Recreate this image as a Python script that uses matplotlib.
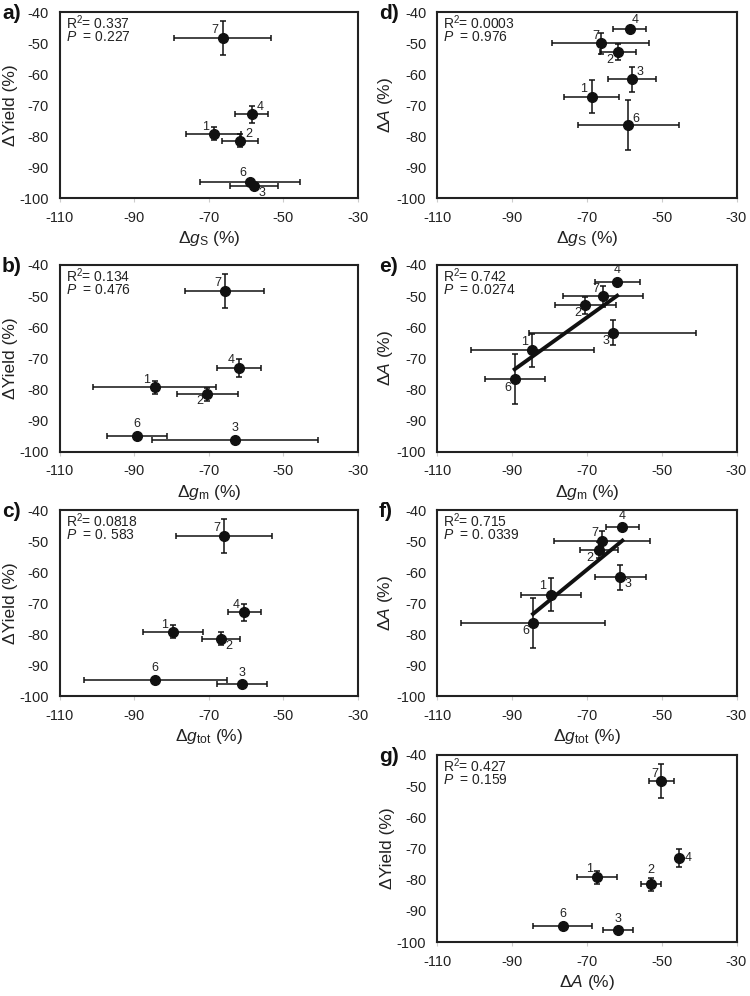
import matplotlib
matplotlib.use("Agg")
import matplotlib.pyplot as plt
import numpy as np

plt.rcParams['font.family'] = ['Liberation Sans', 'DejaVu Sans']
plt.rcParams['mathtext.fontset'] = 'custom'
plt.rcParams['mathtext.rm'] = 'Liberation Sans'
plt.rcParams['mathtext.it'] = 'Liberation Sans:italic'
plt.rcParams['axes.unicode_minus'] = False

# ---------------------------------------------------------------------------
# data (treatment means and errors, % change)
treatments = ['1', '2', '3', '4', '6', '7']

yield_mean = [-79.3, -81.5, -96.2, -73.0, -94.9, -48.4]
yield_err = [2.1, 2.0, 0.5, 2.8, 0.5, 5.5]

A_mean = [-67.3, -52.9, -61.7, -45.5, -76.5, -50.1]
A_err = [5.3, 2.7, 4.1, 0.8, 8.0, 3.3]

gs_mean = [-68.7, -61.6, -57.9, -58.5, -58.9, -66.3]
gs_err = [7.4, 4.8, 6.5, 4.4, 13.4, 13.0]

gm_mean = [-84.6, -70.4, -63.1, -61.9, -89.3, -65.7]
gm_err = [16.4, 8.1, 22.3, 6.0, 8.0, 10.6]

gtot_mean = [-79.7, -66.8, -61.1, -60.5, -84.4, -65.9]
gtot_err = [8.0, 5.1, 6.8, 4.4, 19.2, 12.9]

r2_text = ['0.337', '0.134', '0.0818', '0.0003', '0.742', '0.715', '0.427']
p_text = ['0.227', '0.476', '0. 583', '0.976', '0.0274', '0. 0339', '0.159']

xticks = [-110, -90, -70, -50, -30]
yticks = [-100, -90, -80, -70, -60, -50, -40]

# ---------------------------------------------------------------------------
lab_yield = 'ΔYield (%)'
lab_A = 'Δ$A$ (%)'
lab_gs = 'Δ$g_{\\mathrm{S}}$ (%)'
lab_gm = 'Δ$g_{\\mathrm{m}}$ (%)'
lab_gtot = 'Δ$g_{\\mathrm{tot}}$ (%)'

# letter, axes rect, x data, y data, x label, y label, fit line
panels = [
    ('a)', [0.080, 0.8012, 0.397, 0.1867], (gs_mean, gs_err), (yield_mean, yield_err), lab_gs, lab_yield, False),
    ('b)', [0.080, 0.5462, 0.397, 0.1878], (gm_mean, gm_err), (yield_mean, yield_err), lab_gm, lab_yield, False),
    ('c)', [0.080, 0.3012, 0.397, 0.1867], (gtot_mean, gtot_err), (yield_mean, yield_err), lab_gtot, lab_yield, False),
    ('d)', [0.583, 0.8012, 0.399, 0.1867], (gs_mean, gs_err), (A_mean, A_err), lab_gs, lab_A, False),
    ('e)', [0.583, 0.5462, 0.399, 0.1878], (gm_mean, gm_err), (A_mean, A_err), lab_gm, lab_A, True),
    ('f)', [0.583, 0.3012, 0.399, 0.1867], (gtot_mean, gtot_err), (A_mean, A_err), lab_gtot, lab_A, True),
    ('g)', [0.583, 0.0542, 0.399, 0.1878], (A_mean, A_err), (yield_mean, yield_err), lab_A, lab_yield, False),
]

# number label offsets in pixels (order: 1, 2, 3, 4, 6, 7)
offsets = [
    [(-8, 7), (9, 7), (8, -7), (9, 7), (-7, 9), (-8, 8)],
    [(-8, 7), (-8, -7), (0, 12), (-8, 8), (0, 12), (-7, 8)],
    [(-8, 7), (8, -7), (0, 11), (-8, 7), (0, 12), (-7, 8)],
    [(-8, 8), (-8, -8), (8, 7), (5, 9), (7, 6), (-5, 7)],
    [(-8, 8), (-8, -8), (-7, -8), (0, 12), (-7, -9), (-7, 7)],
    [(-8, 9), (-9, -8), (8, -7), (0, 11), (-7, -8), (-7, 8)],
    [(-7, 8), (0, 14), (0, 11), (10, 0), (0, 12), (-6, 7)],
]

fig = plt.figure(figsize=(7.5, 9.96), dpi=100)

for k, (letter, rect, xd, yd, xlab, ylab, fit) in enumerate(panels):
    ax = fig.add_axes(rect)
    x, xe = np.array(xd[0]), np.array(xd[1])
    y, ye = np.array(yd[0]), np.array(yd[1])

    if fit:
        slope, icpt = np.polyfit(x, y, 1)
        xx = np.array([x.min(), x.max()])
        ax.plot(xx, slope * xx + icpt, color='#111111', lw=2.8, zorder=2)

    ax.errorbar(x, y, xerr=xe, yerr=ye, fmt='o', color='#111111', ms=7,
                elinewidth=1.1, capsize=2.5, capthick=1.1, zorder=3)

    for i, t in enumerate(treatments):
        dx, dy = offsets[k][i]
        ax.annotate(t, (x[i], y[i]), xytext=(dx, dy), textcoords='offset pixels',
                    ha='center', va='center', fontsize=9, color='#222222')

    ax.set_xlim(-110, -30)
    ax.set_ylim(-100, -40)
    ax.set_xticks(xticks)
    ax.set_yticks(yticks)
    ax.tick_params(axis='x', length=3, color='#cccccc', pad=6, labelsize=10.5, labelcolor='#222222')
    ax.tick_params(axis='y', length=0, pad=8, labelsize=10.5, labelcolor='#222222')
    for s in ax.spines.values():
        s.set_linewidth(1.5)
        s.set_color('#222222')

    ax.set_xlabel(xlab, fontsize=12.5, labelpad=3, color='#222222')
    ax.set_ylabel(ylab, fontsize=12.5, labelpad=1, color='#222222')

    ax.text(0.02, 0.945, 'R$^2$= ' + r2_text[k], transform=ax.transAxes,
            ha='left', va='center', fontsize=10, color='#222222')
    ax.text(0.02, 0.865, '$P$  = ' + p_text[k], transform=ax.transAxes,
            ha='left', va='center', fontsize=10, color='#222222')

    ax.text(-0.195, 0.99, letter, transform=ax.transAxes, ha='left', va='center',
            fontsize=15, fontweight='bold', color='#111111')

fig.savefig('out.png', dpi=100)
